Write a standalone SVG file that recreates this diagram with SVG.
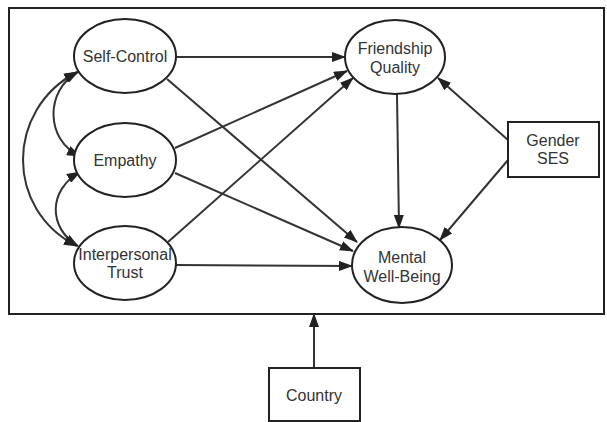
<svg xmlns="http://www.w3.org/2000/svg" width="607" height="422" viewBox="0 0 607 422">
<style>
.n{fill:#fff;stroke:#222;stroke-width:2}
.t{font-family:"Liberation Sans",Arial,sans-serif;font-size:16px;fill:#333;text-anchor:middle}
.c{fill:none;stroke:#333;stroke-width:2}
</style>
<defs>
<marker id="a" markerUnits="userSpaceOnUse" markerWidth="14" markerHeight="10" refX="13" refY="5" orient="auto-start-reverse">
<path d="M0,0 L14,5 L0,10 Z" fill="#222"/>
</marker>
</defs>
<rect width="607" height="422" fill="#fff"/>
<g id="frame"><rect x="9" y="8" width="595" height="306" fill="none" stroke="#222" stroke-width="2"/></g>
<g id="connectors">
<path class="c" d="M176,57 L345,57" marker-end="url(#a)"/>
<path class="c" d="M167,79 L357,242" marker-end="url(#a)"/>
<path class="c" d="M175,148 L347,71" marker-end="url(#a)"/>
<path class="c" d="M175,173 L353,251" marker-end="url(#a)"/>
<path class="c" d="M168,242 L353,78" marker-end="url(#a)"/>
<path class="c" d="M176,265 L352,266" marker-end="url(#a)"/>
<path class="c" d="M397,94 L399,228" marker-end="url(#a)"/>
<path class="c" d="M508,140 L438,78" marker-end="url(#a)"/>
<path class="c" d="M508,160 L440,240" marker-end="url(#a)"/>
<path class="c" d="M78,72 C45,90 45,140 80,156" marker-start="url(#a)" marker-end="url(#a)"/>
<path class="c" d="M80,172 C48,190 48,228 78,246" marker-start="url(#a)" marker-end="url(#a)"/>
<path class="c" d="M77,72 C5,110 5,210 77,246" marker-start="url(#a)" marker-end="url(#a)"/>
<path class="c" d="M314,368 L314,314" marker-end="url(#a)"/>
</g>
<g id="self-control"><ellipse class="n" cx="125" cy="56" rx="51" ry="37"/><text class="t" x="125" y="62">Self-Control</text></g>
<g id="empathy"><ellipse class="n" cx="125" cy="160" rx="51" ry="37"/><text class="t" x="125" y="166">Empathy</text></g>
<g id="trust"><ellipse class="n" cx="125" cy="263" rx="51" ry="37"/><text class="t" x="125" y="260">Interpersonal</text><text class="t" x="125" y="278">Trust</text></g>
<g id="friendship"><ellipse class="n" cx="395" cy="57" rx="50" ry="37"/><text class="t" x="395" y="54">Friendship</text><text class="t" x="395" y="73">Quality</text></g>
<g id="wellbeing"><ellipse class="n" cx="402" cy="265" rx="50" ry="38"/><text class="t" x="402" y="263">Mental</text><text class="t" x="402" y="282">Well-Being</text></g>
<g id="gender-ses"><rect class="n" x="508" y="122" width="91" height="55"/><text class="t" x="553" y="146">Gender</text><text class="t" x="553" y="164">SES</text></g>
<g id="country"><rect class="n" x="269" y="368" width="91" height="53"/><text class="t" x="314" y="401">Country</text></g>
</svg>
